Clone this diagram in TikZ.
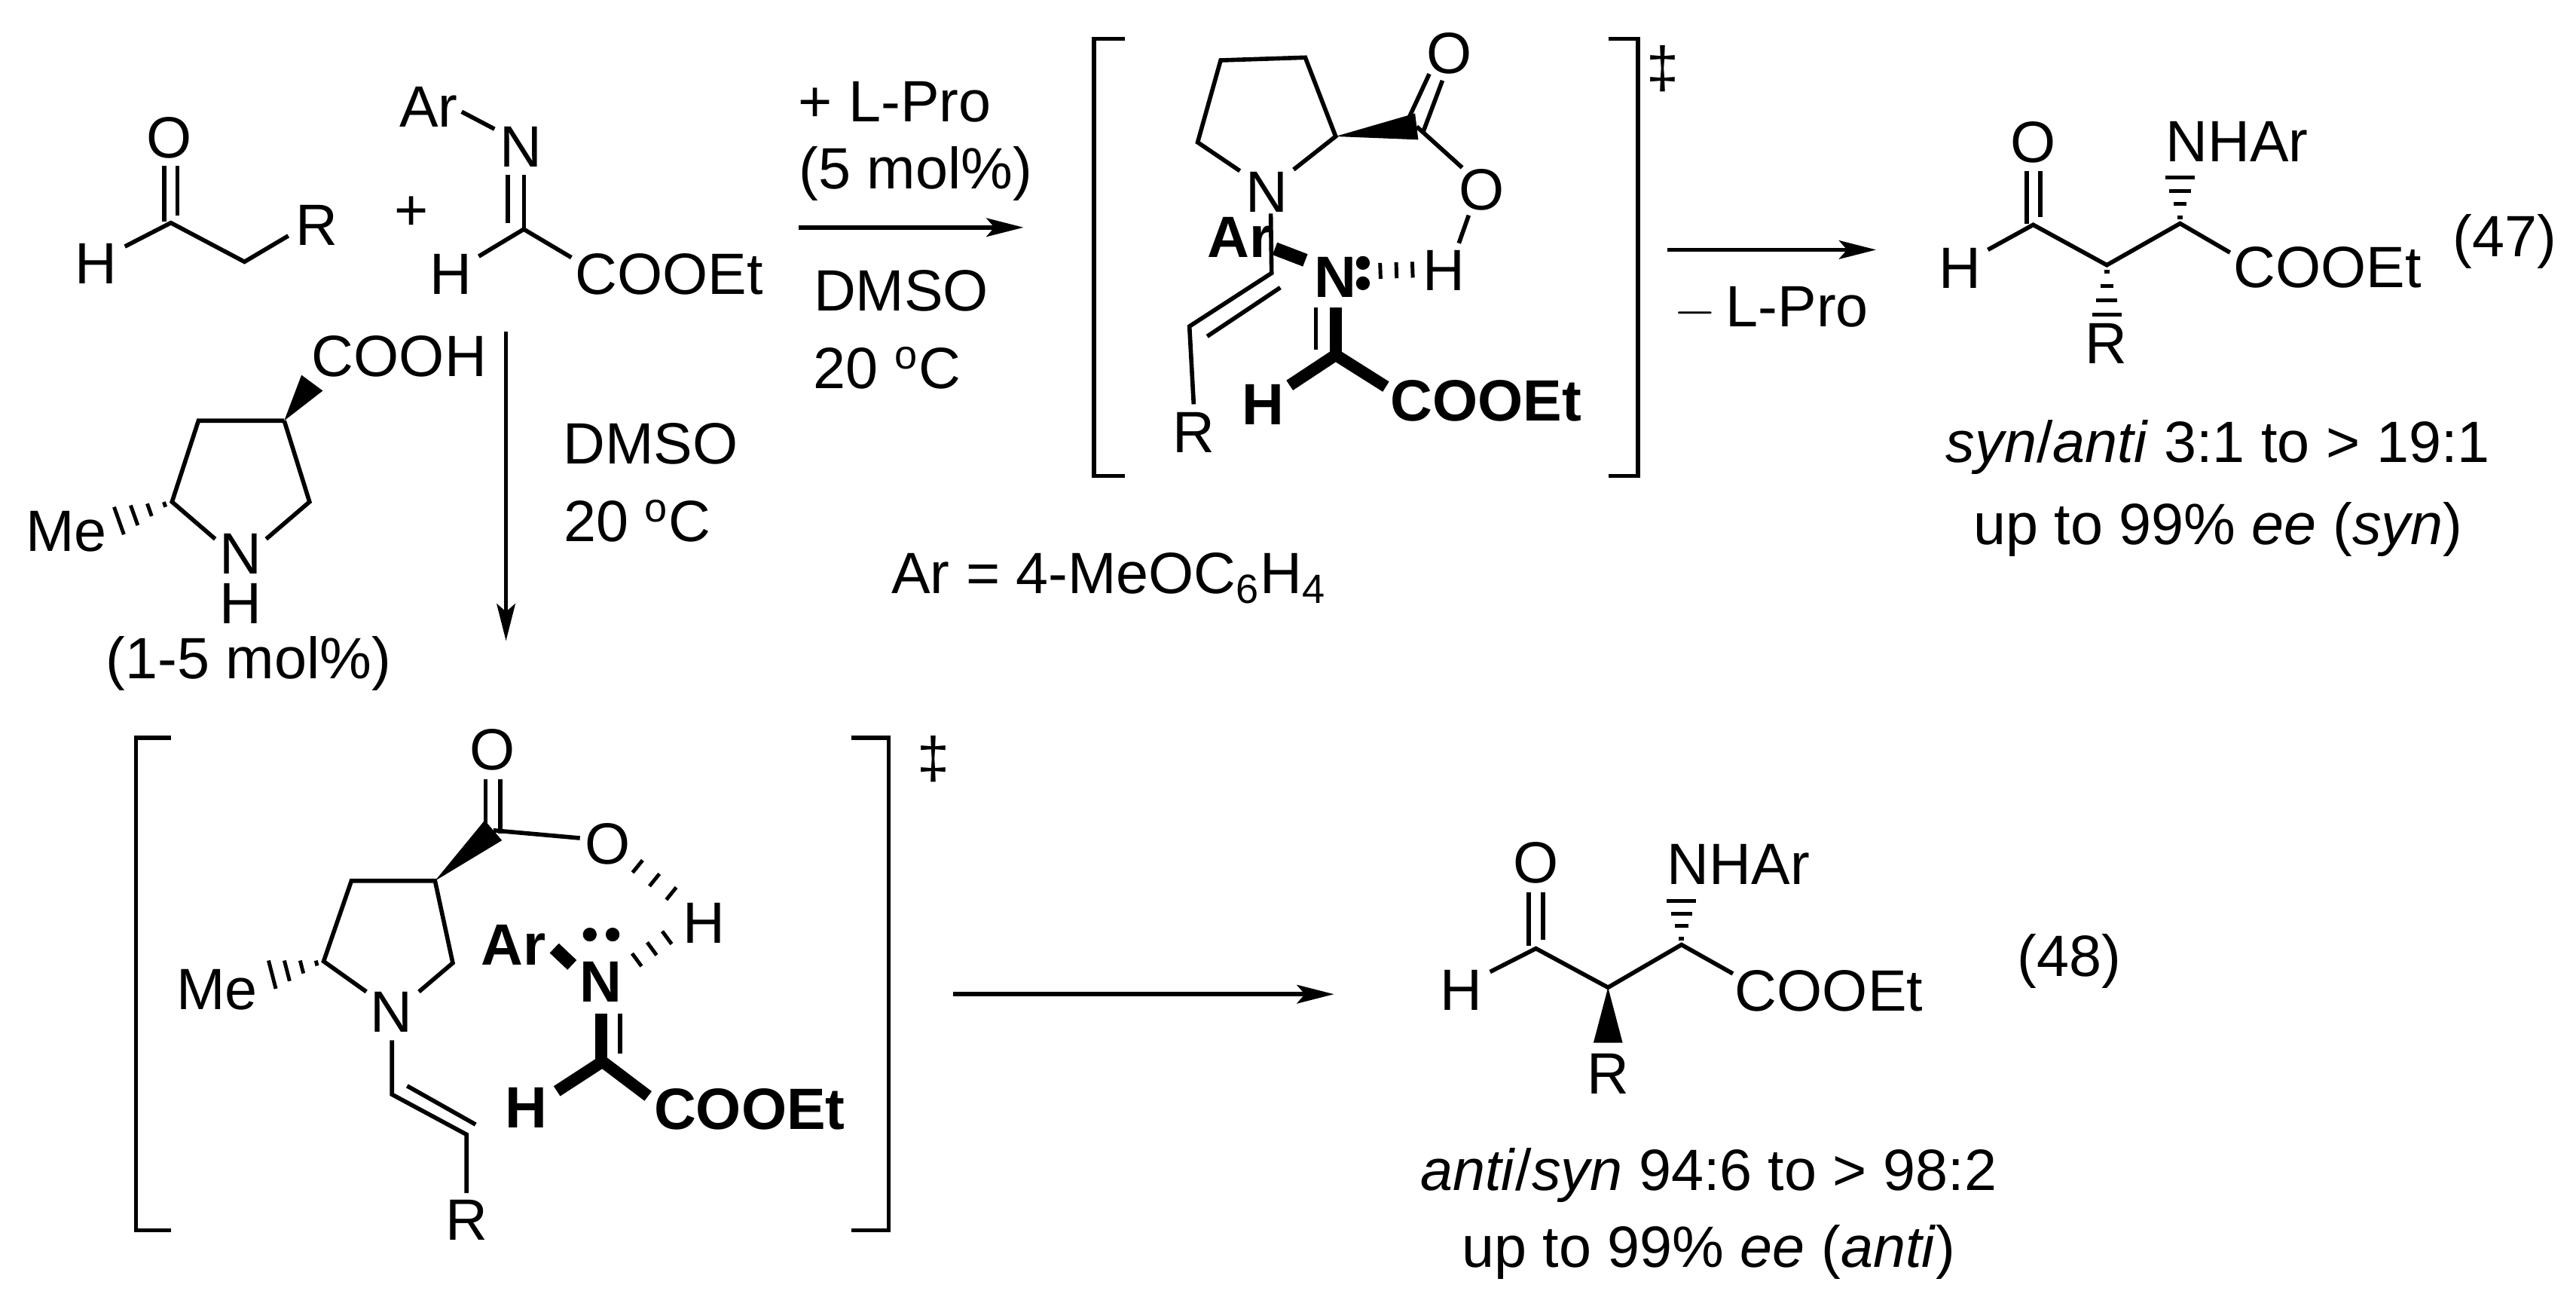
\documentclass[tikz,border=0pt]{standalone}
\usepackage{fontspec}
\setmainfont{Liberation Sans}
\usetikzlibrary{calc,arrows.meta}
\tikzset{
  lbl/.style={inner sep=0pt,font=\fontsize{22}{26}\selectfont},
  blbl/.style={inner sep=0pt,font=\fontsize{22}{26}\selectfont\bfseries},
  bond/.style={line width=1.6pt},
  rxn/.style={line width=1.6pt,-{Stealth[length=14pt,width=7pt,inset=3pt]}},
  bracket/.style={line width=1.6pt}
}
\newcommand{\wdg}[3]{\fill (#1) -- ($(#2)!#3!90:(#1)$) -- ($(#2)!#3!-90:(#1)$) -- cycle;}
\newcommand{\hsh}[2]{\foreach \t/\w in {0.12/1pt,0.37/2.5pt,0.62/4pt,0.87/5.5pt}{\draw[line width=1.4pt] ($($(#1)!\t!(#2)$)!\w!90:(#2)$) -- ($($(#1)!\t!(#2)$)!\w!-90:(#2)$);}}
\newcommand{\hbd}[2]{\foreach \t in {0.15,0.5,0.85}{\draw[line width=1.4pt] ($($(#1)!\t!(#2)$)!3pt!90:(#2)$) -- ($($(#1)!\t!(#2)$)!3pt!-90:(#2)$);}}
\begin{document}
\begin{tikzpicture}[x=0.0218cm,y=-0.0218cm]
\useasboundingbox (0,0) rectangle (1568,789);
% ---------- aldehyde
\node[lbl] (aO) at (103,84) {O};
\node[lbl] (aH) at (58.6,160.6) {H};
\node[lbl] (aR) at (193,137) {R};
\draw[bond] (100,101) -- (100,135);
\draw[bond] (108,101) -- (108,131);
\draw[bond] (76,150) -- (104,135.6) -- (148.8,159.3) -- (175.5,143.5);
\node[lbl] (plus) at (250.5,130) {+};
% ---------- imine
\node[lbl] (iAr) at (260.8,65.3) {Ar};
\node[lbl] (iN) at (317,89.5) {N};
\node[lbl] (iH) at (274.3,167) {H};
\node[lbl] (iE) at (407.3,167) {COOEt};
\draw[bond] (281,68) -- (301,78.5);
\draw[bond] (309,106.6) -- (309,135.6);
\draw[bond] (319,106.6) -- (319,139.5);
\draw[bond] (291.4,156) -- (318.8,139.5) -- (347.8,156.7);
% ---------- catalyst
\node[lbl] (cC) at (243,217) {COOH};
\node[lbl] (cN) at (146.5,337) {N};
\node[lbl] (cH) at (146.5,367.3) {H};
\node[lbl] (cMe) at (40.3,323.3) {Me};
\node[lbl] (cmol) at (151.3,404) {(1-5 mol\%)};
\draw[bond] (173,256) -- (120.8,256) -- (104.7,305.4) -- (131,328);
\draw[bond] (162,328) -- (188.4,305.4) -- (173,256);
\coordinate (c3) at (173,256); \coordinate (cw) at (190,233);
\wdg{c3}{cw}{5pt}
\coordinate (c5) at (104.7,305.4); \coordinate (cm) at (67.6,318.6);
\hsh{c5}{cm}
% ---------- arrows and conditions
\coordinate (ar1s) at (486,138.4); \coordinate (ar1e) at (623,138.4);
\draw[rxn] (ar1s) -- (ar1e);
\node[lbl] (t1) at (544.7,62) {+ L-Pro};
\node[lbl] (t2) at (557.3,105.5) {(5 mol\%)};
\node[lbl] (t3) at (548.5,177) {DMSO};
\node[lbl] (t4) at (540,224) {20 \textsuperscript{o}C};
\coordinate (ar2s) at (308,202); \coordinate (ar2e) at (308,390);
\draw[rxn] (ar2s) -- (ar2e);
\node[lbl] (t5) at (396,270) {DMSO};
\node[lbl] (t6) at (388,317) {20 \textsuperscript{o}C};
\node[lbl] (arl) at (675,352) {Ar = 4-MeOC\textsubscript{6}H\textsubscript{4}};
\coordinate (ar3s) at (1015,152); \coordinate (ar3e) at (1142,152);
\draw[rxn] (ar3s) -- (ar3e);
\node[lbl] (t7) at (1078,188) {$-$\,L-Pro};
\coordinate (ar4s) at (580,605); \coordinate (ar4e) at (812,605);
\draw[rxn] (ar4s) -- (ar4e);
% ---------- TS1
\draw[bracket] (684.5,23.6) -- (665.8,23.6) -- (665.8,289.6) -- (684.5,289.6);
\draw[bracket] (979,23.6) -- (997,23.6) -- (997,289.6) -- (979,289.6);
\node[lbl] (dg1) at (1012,42) {\ddag};
\node[lbl] (n1) at (771,117) {N};
\node[lbl] (o1) at (882,32.4) {O};
\node[lbl] (o2) at (902,115.5) {O};
\node[lbl] (h1) at (878.7,164.5) {H};
\node[blbl] (ar1) at (754.7,144.4) {Ar};
\node[blbl] (n2) at (813,168.8) {N};
\node[blbl] (h2) at (769,246) {H};
\node[blbl] (e1) at (904.4,244) {COOEt};
\node[lbl] (r1) at (726.6,263.4) {R};
\draw[bond] (754.7,104) -- (729,86.6) -- (743,36.7) -- (794.5,35) -- (813,83) -- (787.4,103.2);
\coordinate (s1) at (813,83); \coordinate (s2) at (862.3,77);
\wdg{s1}{s2}{5pt}
\draw[bond] (857,73) -- (870,45);
\draw[bond] (866,81) -- (878,49);
\draw[bond] (862.3,77) -- (890,102);
\draw[bond] (894,131) -- (888,148);
\draw[bond] (773.5,130) -- (774,166.2) -- (724,198.6) -- (726.6,246);
\draw[bond] (779.3,175) -- (734.8,204.7);
\draw[line width=5pt] (776,151.3) -- (794.5,158.4);
\fill (829.6,160) circle (2.6pt) (829.6,172.4) circle (2.6pt);
\coordinate (hb1) at (836,165); \coordinate (hb2) at (864,164);
\hbd{hb1}{hb2}
\draw[line width=4.5pt] (813,187) -- (813,217);
\draw[bond] (801,187) -- (801,212.6);
\draw[line width=4.5pt,line join=round] (785,234.5) -- (813,216) -- (843.6,235.3);
% ---------- TS2
\draw[bracket] (104.3,449) -- (82.7,449) -- (82.7,748.7) -- (104.3,748.7);
\draw[bracket] (518,449) -- (541,449) -- (541,748.7) -- (518,748.7);
\node[lbl] (dg2) at (568,462) {\ddag};
\node[lbl] (n3) at (238,616) {N};
\node[lbl] (me2) at (132,602.5) {Me};
\node[lbl] (o3) at (299.7,456.3) {O};
\node[lbl] (o4) at (369.8,513.5) {O};
\node[lbl] (h3) at (428.4,561.6) {H};
\node[blbl] (ar2) at (312.7,575) {Ar};
\node[blbl] (n4) at (365.8,597.4) {N};
\node[blbl] (h4) at (320.4,674) {H};
\node[blbl] (e2) at (456.2,675) {COOEt};
\node[lbl] (r2) at (284,742.5) {R};
\draw[bond] (223,603.5) -- (197,585) -- (213.9,536) -- (264.8,536) -- (275.6,586) -- (255,603.5);
\coordinate (u1) at (264.8,536); \coordinate (u2) at (300.3,505.3);
\wdg{u1}{u2}{5pt}
\draw[bond] (295.5,505) -- (295.5,474);
\draw[bond] (304.5,507) -- (304.5,474);
\draw[bond] (300.3,505.3) -- (353,510);
\coordinate (c2b) at (197,585); \coordinate (meb) at (161,594.3);
\hsh{c2b}{meb}
\coordinate (hx1) at (383.7,523.7); \coordinate (hx2) at (413,547.3);
\hbd{hx1}{hx2}
\coordinate (hy1) at (383.7,587); \coordinate (hy2) at (409.9,567.7);
\hbd{hy1}{hy2}
\draw[line width=5pt] (337.4,577) -- (348.2,587.2);
\fill (359,568.7) circle (2.6pt) (372.9,568.7) circle (2.6pt);
\draw[line width=4.5pt] (365.8,616.8) -- (365.8,647);
\draw[bond] (377.5,617) -- (377.5,641.3);
\draw[line width=4.5pt,line join=round] (339,664) -- (366.7,646) -- (394.5,667);
\draw[bond] (238.6,633) -- (238.6,666) -- (284,690.4) -- (284,726);
\draw[bond] (247.8,660.8) -- (289.5,684.3);
% ---------- product 47
\node[lbl] (pO) at (1237.6,86.4) {O};
\node[lbl] (pH) at (1193,163) {H};
\node[lbl] (pE) at (1416.7,162.8) {COOEt};
\node[lbl,anchor=west] (pN) at (1318,86.4) {NHAr};
\node[lbl] (pR) at (1282,209) {R};
\node[lbl] (p47) at (1524.6,146.8) {(47)};
\draw[bond] (1233.7,104) -- (1233.7,136);
\draw[bond] (1242,104) -- (1242,132);
\draw[bond] (1210,152) -- (1237.6,136.8) -- (1282.4,161.3) -- (1327,136) -- (1357.4,153.7);
\coordinate (q1) at (1327,136); \coordinate (q2) at (1327,104);
\hsh{q1}{q2}
\coordinate (q3) at (1282.4,161.3); \coordinate (q4) at (1282.4,196);
\hsh{q3}{q4}
\node[lbl] (s47a) at (1350,272) {\textit{syn}/\textit{anti} 3:1 to > 19:1};
\node[lbl] (s47b) at (1350,322) {up to 99\% \textit{ee} (\textit{syn})};
% ---------- product 48
\node[lbl] (qO) at (934.9,525.2) {O};
\node[lbl] (qH) at (889.6,602.4) {H};
\node[lbl] (qE) at (1113.3,603.2) {COOEt};
\node[lbl,anchor=west] (qN) at (1014.5,526) {NHAr};
\node[lbl] (qR) at (978.8,653.6) {R};
\node[lbl] (p48) at (1259.6,584.8) {(48)};
\draw[bond] (930.5,542.8) -- (930.5,575.7);
\draw[bond] (939.3,542.8) -- (939.3,572);
\draw[bond] (907,591.4) -- (934.9,577.2) -- (978.8,600.9) -- (1023.5,574.9) -- (1054.8,592.5);
\coordinate (w1) at (1023.5,574.9); \coordinate (w2) at (1023.5,544.3);
\hsh{w1}{w2}
\coordinate (w3) at (978.8,600.9); \coordinate (w4) at (978.8,634.5);
\wdg{w3}{w4}{5.5pt}
\node[lbl] (s48a) at (1040,715) {\textit{anti}/\textit{syn} 94:6 to > 98:2};
\node[lbl] (s48b) at (1040,762) {up to 99\% \textit{ee} (\textit{anti})};
\end{tikzpicture}
\end{document}
